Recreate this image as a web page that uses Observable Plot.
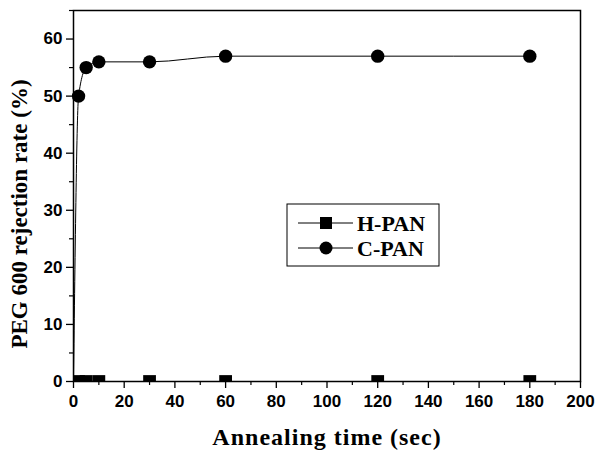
<!DOCTYPE html>
<html>
<head>
<meta charset="utf-8">
<script src="https://cdn.jsdelivr.net/npm/d3@7"></script>
<script src="https://cdn.jsdelivr.net/npm/@observablehq/plot@0.6"></script>
<style>
  html, body { margin: 0; padding: 0; background: #fff; }
  #chart { position: relative; width: 598px; height: 454px; }
</style>
</head>
<body>
<div id="chart"></div>
<script>
// Data
const seriesNames = ["H-PAN", "C-PAN"];
const times = [2, 5, 10, 30, 60, 120, 180];
const hpanValues = [0, 0, 0, 0, 0, 0, 0];
const cpanValues = [50, 55, 56, 56, 57, 57, 57];
// C-PAN connecting line starts from the origin
const cpanLineTimes = [0, 2, 5, 10, 30, 60, 120, 180];
const cpanLineValues = [0, 50, 55, 56, 56, 57, 57, 57];
const xTicks = [0, 20, 40, 60, 80, 100, 120, 140, 160, 180, 200];
const xMinorTicks = [10, 30, 50, 70, 90, 110, 130, 150, 170, 190];
const yTicks = [0, 10, 20, 30, 40, 50, 60];
const yMinorTicks = [5, 15, 25, 35, 45, 55, 65];
const xTitle = "Annealing time (sec)";
const yTitle = "PEG 600 rejection rate (%)";

const hpan = times.map((t, i) => ({t, v: hpanValues[i]}));
const cpan = times.map((t, i) => ({t, v: cpanValues[i]}));
const cpanLine = cpanLineTimes.map((t, i) => ({t, v: cpanLineValues[i]}));

const sans = "'Liberation Sans', Arial, sans-serif";
const serif = "'Liberation Serif', 'Times New Roman', serif";

const plot = Plot.plot({
  width: 598,
  height: 454,
  marginLeft: 73,
  marginRight: 18,
  marginTop: 10,
  marginBottom: 73,
  style: {background: "#fff", color: "#000", overflow: "visible"},
  x: {domain: [0, 200]},
  y: {domain: [0, 65]},
  marks: [
    Plot.line(cpanLine, {x: "t", y: "v", stroke: "#000", strokeWidth: 1, curve: "monotone-x"}),
    Plot.line(hpan, {x: "t", y: "v", stroke: "#000", strokeWidth: 1}),
    Plot.dot(hpan, {x: "t", y: "v", symbol: "square", r: 7.2, fill: "#000", stroke: "none", clip: true}),
    Plot.dot(cpan, {x: "t", y: "v", symbol: "circle", r: 6.7, fill: "#000", stroke: "none"}),
    Plot.frame({stroke: "#000", strokeWidth: 1.5}),
    Plot.axisX({ticks: xTicks, tickSize: 7, tickPadding: 6, tickFormat: d => d, fontFamily: sans, fontSize: 17, fontWeight: "bold", label: null, strokeWidth: 1.3}),
    Plot.axisX({ticks: xMinorTicks, tickSize: 4, text: null, label: null, strokeWidth: 1.2}),
    Plot.axisY({ticks: yTicks, tickSize: 7, tickPadding: 4, tickFormat: d => d, fontFamily: sans, fontSize: 17, fontWeight: "bold", label: null, strokeWidth: 1.3}),
    Plot.axisY({ticks: yMinorTicks, tickSize: 4, text: null, label: null, strokeWidth: 1.2}),
    Plot.text([xTitle], {text: d => d, frameAnchor: "bottom", textAnchor: "middle", lineAnchor: "bottom", dy: 63, fontFamily: serif, fontSize: 24, fontWeight: "bold", fill: "#000"}),
    Plot.text([yTitle], {text: d => d, frameAnchor: "left", textAnchor: "middle", lineAnchor: "middle", dx: -54, dy: 18, rotate: -90, fontFamily: serif, fontSize: 23, fontWeight: "bold", fill: "#000"})
  ]
});

document.getElementById("chart").appendChild(plot);

const svg = d3.select(plot);
svg.selectAll("text").filter(function() { return this.textContent === xTitle; })
  .style("letter-spacing", "1px");

// Legend box inside the plot area
const lg = svg.append("g").attr("class", "legend");
const lx = 287, ly = 204, lw = 152, lh = 62;
lg.append("rect").attr("x", lx).attr("y", ly).attr("width", lw).attr("height", lh)
  .attr("fill", "#fff").attr("stroke", "#000").attr("stroke-width", 1);
const rows = [ly + 19, ly + 44];
seriesNames.forEach((name, i) => {
  const y = rows[i];
  lg.append("line").attr("x1", lx + 11).attr("x2", lx + 66).attr("y1", y).attr("y2", y)
    .attr("stroke", "#000").attr("stroke-width", 1);
  if (i === 0) {
    lg.append("rect").attr("x", lx + 39 - 6).attr("y", y - 6).attr("width", 12).attr("height", 12).attr("fill", "#000");
  } else {
    lg.append("circle").attr("cx", lx + 39).attr("cy", y).attr("r", 6.5).attr("fill", "#000");
  }
  lg.append("text").attr("x", lx + 70).attr("y", y).attr("dy", "0.35em")
    .attr("text-anchor", "start")
    .attr("font-family", serif).attr("font-size", 22).attr("font-weight", "bold")
    .attr("fill", "#000").text(name);
});
</script>
</body>
</html>
